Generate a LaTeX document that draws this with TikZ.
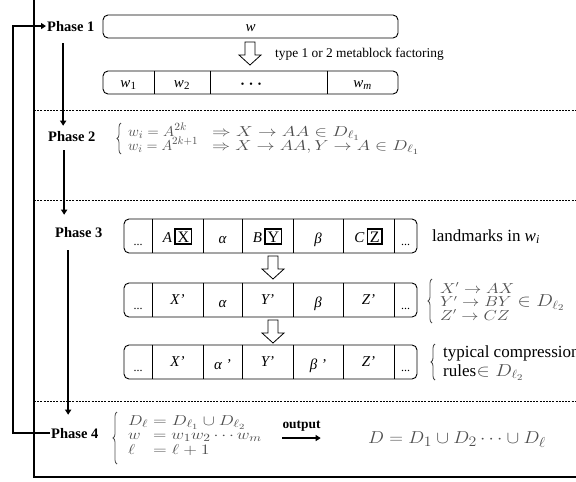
\documentclass[tikz,border=0pt]{standalone}
\usepackage{fontspec}
\usepackage{graphicx}
\setmainfont{Liberation Serif}
\usetikzlibrary{decorations.pathreplacing,arrows.meta,calc}
\definecolor{mgray}{HTML}{4E4E4E}
\setlength\fboxrule{1.7pt}
\setlength\fboxsep{1.4pt}
\tikzset{
 frame/.style={line width=1.1pt},
 sepline/.style={line width=0.9pt, dash pattern=on 2pt off 1.2pt},
 rowbox/.style={draw, line width=0.9pt, rounded corners=5pt, inner sep=0, minimum width=293pt, minimum height=34pt},
 wbox/.style={draw, line width=0.9pt, rounded corners=5pt, inner sep=0, minimum width=295pt, minimum height=23pt},
 cellline/.style={line width=0.7pt},
 phase/.style={font=\fontsize{14.5}{16}\selectfont\bfseries, inner sep=1pt, anchor=base west},
 cell/.style={font=\fontsize{15}{17}\selectfont\itshape, inner sep=0, anchor=base},
 flow/.style={line width=1.8pt, -{Triangle[length=5pt,width=6pt]}},
 gmath/.style={text=mgray, inner sep=0, anchor=base west, font=\fontsize{15.5}{17}\selectfont},
 gbrace/.style={decorate, decoration={brace, amplitude=4pt}, draw=mgray, line width=0.8pt},
 note/.style={font=\fontsize{17}{19}\selectfont, inner sep=0, anchor=base west},
 hollow/.style={line width=0.8pt, fill=white},
 hdown/.pic={\draw[hollow] (-5,0) -- (-5,13) -- (-11,13) -- (0,23) -- (11,13) -- (5,13) -- (5,0) -- cycle;},
}
\newcommand\hs[2][1.2]{\scalebox{#1}[1]{#2}}
\newcommand\boxlet[1]{{\upshape\fontsize{16}{17}\selectfont\fbox{#1}}}
\begin{document}
\begin{tikzpicture}[x=1pt,y=-1pt]
\useasboundingbox (0,0) rectangle (576,482);
% frame
\draw[frame] (34,0) -- (34,477) -- (577,477);
\foreach \yy in {110,200,401} \draw[sepline] (34,\yy) -- (577,\yy);

% phase labels
\node[phase] (p1) at (46,31) {Phase 1};
\node[phase] (p2) at (47,141) {Phase 2};
\node[phase] (p3) at (54,237) {Phase 3};
\node[phase] (p4) at (50,438) {Phase 4};

% flows
\draw[flow] (p4.west) -- (p4.west -| 13,0) -- (p1.west -| 13,0) -- (p1.west);
\draw[flow] ($(p1.south)+(-7.6,11)$) -- ($(p1.south |- p2.north)+(-7.6,-4)$);
\draw[flow] ($(p2.south)+(-7.6,8)$) -- ($(p2.south |- p3.north)+(-7.6,-11)$);
\draw[flow] ($(p3.south)+(-10.6,12)$) -- ($(p3.south |- p4.north)+(-10.6,-12)$);

% Phase 1
\node[wbox] (w) at (250.5,26.5) {};
\node[cell] at (250.5,31) {w};
\pic at (250,42) {hdown};
\node[inner sep=0, anchor=base west, font=\fontsize{13.4}{15}\selectfont] (fact) at (275,57) {type 1 or 2 metablock factoring};
\node[wbox] (wr) at (250.5,82.5) {};
\foreach \x in {154,210,327} \draw[cellline] (wr.north -| \x,0) -- (wr.south -| \x,0);
\node[cell] at (128.5,87) {w\textsubscript{\fontsize{11}{12}\selectfont\upshape 1}};
\node[cell] at (182,87) {w\textsubscript{\fontsize{11}{12}\selectfont\upshape 2}};
\node[cell, font=\fontsize{10}{12}\selectfont] at (251,87) {•\hspace{5pt}•\hspace{5pt}•};
\node[cell] at (362.5,87) {w\textsubscript{\fontsize{11}{12}\selectfont \textit{m}}};

% Phase 2
\draw[gbrace] (121,154) -- (121,123);
\node[gmath] (m2a) at (128,136) {\hs[1.05]{$w_i = A^{2k}$}};
\node[gmath] (m2b) at (212,136) {\hs[1.3]{$\Rightarrow X\rightarrow AA\in D_{\ell_1}$}};
\node[gmath] (m2c) at (128,150) {\hs[1.0]{$w_i = A^{2k+1}$}};
\node[gmath] (m2d) at (212,150) {\hs[1.26]{$\Rightarrow X\rightarrow AA, Y\rightarrow A\in D_{\ell_1}$}};

% Phase 3 rows
\node[rowbox] (r1) at (270.5,236) {};
\node[rowbox] (r2) at (270.5,300) {};
\node[rowbox] (r3) at (270.5,362) {};
\foreach \r in {r1,r2,r3}
  \foreach \x in {152,203,242,293,343,394} \draw[cellline] (\r.north -| \x,0) -- (\r.south -| \x,0);
\pic at (273,256) {hdown};
\pic at (273,320) {hdown};
% row 1
\node[cell, font=\fontsize{12}{14}\selectfont] at (138,245) {...};
\node[cell] at (177.5,242) {A\,\boxlet{X}};
\node[cell] at (222.5,243) {α};
\node[cell] at (267.5,242) {B\,\boxlet{Y}};
\node[cell] at (318,243) {β};
\node[cell] at (368.5,242) {C\,\boxlet{Z}};
\node[cell, font=\fontsize{12}{14}\selectfont] at (405.5,245) {...};
% row 2
\node[cell, font=\fontsize{12}{14}\selectfont] at (138,309) {...};
\node[cell] at (177.5,304) {X’};
\node[cell] at (222.5,307) {α};
\node[cell] at (267.5,304) {Y’};
\node[cell] at (318,307) {β};
\node[cell] at (368.5,304) {Z’};
\node[cell, font=\fontsize{12}{14}\selectfont] at (405.5,309) {...};
% row 3
\node[cell, font=\fontsize{12}{14}\selectfont] at (138,371) {...};
\node[cell] at (177.5,366) {X’};
\node[cell] at (222.5,369) {α ’};
\node[cell] at (267.5,366) {Y’};
\node[cell] at (318,369) {β ’};
\node[cell] at (368.5,366) {Z’};
\node[cell, font=\fontsize{12}{14}\selectfont] at (405.5,371) {...};

\node[note] (land) at (432,241) {landmarks in \textit{w}\textsubscript{\fontsize{12}{13}\selectfont\textit{i}}};

\draw[gbrace] (432,323) -- (432,279);
\node[gmath, font=\fontsize{13.5}{15}\selectfont] (x1) at (440,293) {\hs{$X'\rightarrow AX$}};
\node[gmath, font=\fontsize{13.5}{15}\selectfont] (x2) at (440,306.5) {\hs{$Y'\rightarrow BY$}};
\node[gmath, font=\fontsize{13.5}{15}\selectfont] (x3) at (440,320) {\hs{$Z'\rightarrow CZ$}};
\node[gmath, font=\fontsize{18}{20}\selectfont] (x4) at (x2.base east) {\hs[1.15]{$\;\in D_{\ell_2}$}};

\draw[gbrace, draw=black!75] (435,380) -- (435,344);
\node[note] (typ) at (443,357) {typical compression};
\node[note] (rul) at (443,376) {rules};
\node[gmath, font=\fontsize{18}{20}\selectfont] at (rul.base east) {\hs[1.15]{$\in D_{\ell_2}$}};

% Phase 4
\draw[gbrace] (117,464) -- (117,412);
\node[gmath] (d1) at (128,425) {\hs{$D_\ell$}};
\node[gmath] (d2) at (128,439.5) {\hs{$w$}};
\node[gmath] (d3) at (128,454) {\hs{$\ell$}};
\node[gmath] (e1) at (153,425) {\hs[1.25]{$= D_{\ell_1}\cup D_{\ell_2}$}};
\node[gmath] (e2) at (153,439.5) {\hs[1.22]{$= w_1w_2\cdots w_m$}};
\node[gmath] (e3) at (153,454) {\hs[1.25]{$= \ell+1$}};

\node[inner sep=0, anchor=base, font=\fontsize{13.4}{15}\selectfont\bfseries] (outp) at (301.5,428) {output};
\draw[flow] ([yshift=-7pt]outp.south west) -- ([yshift=-7pt]outp.south east);
\node[gmath, font=\fontsize{19}{21}\selectfont] (res) at (368,443) {\scalebox{1.1}[1]{$D = D_1\cup D_2\cdots\cup D_\ell$}};
\end{tikzpicture}
\end{document}
